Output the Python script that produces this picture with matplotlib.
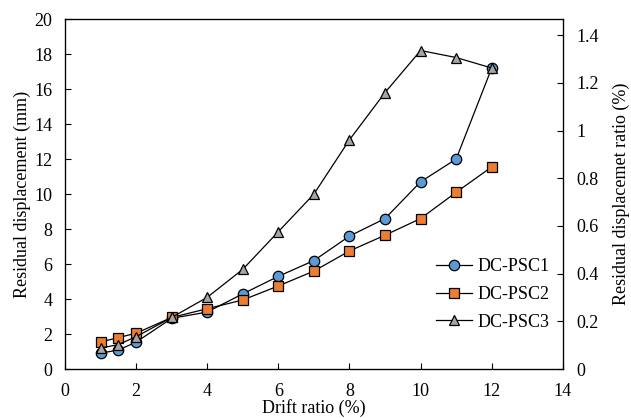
import matplotlib

matplotlib.use("Agg")

import matplotlib.pyplot as plt

plt.rcParams["font.family"] = ["Liberation Serif", "DejaVu Serif"]
plt.rcParams["font.size"] = 13

drift = [1, 1.5, 2, 3, 4, 5, 6, 7, 8, 9, 10, 11, 12]
psc1 = [0.91, 1.09, 1.54, 2.9, 3.26, 4.3, 5.3, 6.2, 7.6, 8.6, 10.7, 12.0, 17.2]
psc2 = [1.55, 1.8, 2.05, 2.95, 3.45, 3.95, 4.75, 5.6, 6.75, 7.65, 8.6, 10.1, 11.55]
psc3 = [1.2, 1.4, 1.85, 2.95, 4.1, 5.7, 7.85, 10.0, 13.1, 15.8, 18.2, 17.8, 17.2]

series = [
    ("DC-PSC1", psc1, "o", "#5B9BD5"),
    ("DC-PSC2", psc2, "s", "#ED7D31"),
    ("DC-PSC3", psc3, "^", "#A5A5A5"),
]

fig = plt.figure(figsize=(6.31, 4.18), dpi=100)
ax = fig.add_axes([0.103, 0.117, 0.789, 0.8375])

for nombre, valores, marcador, color in series:
    ax.plot(drift, valores, color="black", linewidth=0.9, marker=marcador,
            markersize=7.5, markerfacecolor=color, markeredgecolor="black",
            markeredgewidth=0.9, label=nombre)

ax.set_xlim(0, 14)
ax.set_ylim(0, 20)
ax.set_xticks(range(0, 15, 2))
ax.set_yticks(range(0, 21, 2))
ax.tick_params(direction="in", length=4, width=0.8)
ax.tick_params(axis="x", pad=10)
ax.tick_params(axis="y", pad=9)
ax.set_xlabel("Drift ratio (%)", labelpad=-1)
ax.set_ylabel("Residual displacement (mm)", labelpad=2.5)
for s in ax.spines.values():
    s.set_linewidth(0.9)

ax2 = ax.twinx()
ax2.set_ylim(0, 1.4675)
ratio_ticks = [0, 0.2, 0.4, 0.6, 0.8, 1.0, 1.2, 1.4]
ax2.set_yticks(ratio_ticks)
ax2.set_yticklabels(["0", "0.2", "0.4", "0.6", "0.8", "1", "1.2", "1.4"])
ax2.tick_params(direction="in", length=4, width=0.8, pad=10)
ax2.set_ylabel("Residual displacemet ratio (%)", labelpad=10)

ax.legend(loc="upper left", bbox_to_anchor=(0.68, 0.40), bbox_transform=fig.transFigure,
          frameon=False, handlelength=2.0, handletextpad=0.3, labelspacing=0.6,
          borderaxespad=0, fontsize=13)

fig.savefig("out.png", dpi=100)
